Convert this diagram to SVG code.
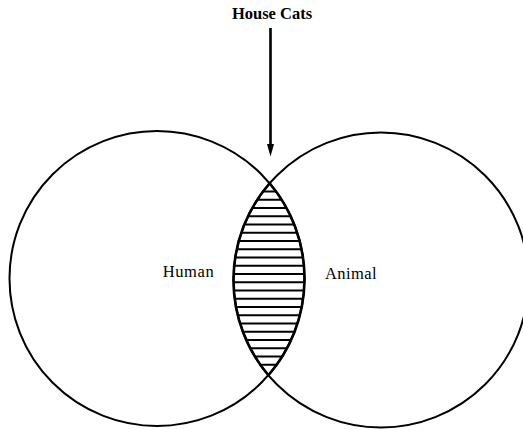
<svg xmlns="http://www.w3.org/2000/svg" width="523" height="430" viewBox="0 0 523 430">
  <style>
    .circle { fill: none; stroke: #000; stroke-width: 2; }
    .lens { fill: none; stroke: #000; stroke-width: 2.6; }
    .hatch { stroke: #000; stroke-width: 1.8; }
    .label { font-family: "Liberation Serif", "Times New Roman", serif; font-size: 16.5px; fill: #000; }
    .title { font-family: "Liberation Serif", "Times New Roman", serif; font-size: 16.5px; font-weight: bold; fill: #000; }
    .arrow { stroke: #000; stroke-width: 2.6; fill: none; }
  </style>
  <defs>
    <clipPath id="lensClip">
      <path d="M 269.64 183.27 A 147.5 147.5 0 0 1 268.36 375.23 A 147.5 147.5 0 0 1 269.64 183.27 Z"/>
    </clipPath>
    <marker id="head" markerUnits="userSpaceOnUse" markerWidth="13" markerHeight="8" refX="1" refY="4" orient="auto" viewBox="0 0 13 8">
      <polygon points="0,0.5 12.5,4 0,7.5" fill="#000"/>
    </marker>
  </defs>
  <rect width="523" height="430" fill="#fff"/>
  <g id="human">
    <circle class="circle" cx="157" cy="278.5" r="147.5"/>
    <text class="label" x="162.7" y="277" textLength="51" lengthAdjust="spacing">Human</text>
  </g>
  <g id="animal">
    <circle class="circle" cx="381" cy="280" r="147.5"/>
    <text class="label" x="325" y="278.5" textLength="51.5" lengthAdjust="spacing">Animal</text>
  </g>
  <g id="house-cats">
    <g clip-path="url(#lensClip)">
      <line class="hatch" x1="225" y1="191.5" x2="315" y2="191.5"/>
      <line class="hatch" x1="225" y1="199.75" x2="315" y2="199.75"/>
      <line class="hatch" x1="225" y1="208" x2="315" y2="208"/>
      <line class="hatch" x1="225" y1="216.25" x2="315" y2="216.25"/>
      <line class="hatch" x1="225" y1="224.5" x2="315" y2="224.5"/>
      <line class="hatch" x1="225" y1="232.75" x2="315" y2="232.75"/>
      <line class="hatch" x1="225" y1="241" x2="315" y2="241"/>
      <line class="hatch" x1="225" y1="249.25" x2="315" y2="249.25"/>
      <line class="hatch" x1="225" y1="257.5" x2="315" y2="257.5"/>
      <line class="hatch" x1="225" y1="265.75" x2="315" y2="265.75"/>
      <line class="hatch" x1="225" y1="274" x2="315" y2="274"/>
      <line class="hatch" x1="225" y1="282.25" x2="315" y2="282.25"/>
      <line class="hatch" x1="225" y1="290.5" x2="315" y2="290.5"/>
      <line class="hatch" x1="225" y1="298.75" x2="315" y2="298.75"/>
      <line class="hatch" x1="225" y1="307" x2="315" y2="307"/>
      <line class="hatch" x1="225" y1="315.25" x2="315" y2="315.25"/>
      <line class="hatch" x1="225" y1="323.5" x2="315" y2="323.5"/>
      <line class="hatch" x1="225" y1="331.75" x2="315" y2="331.75"/>
      <line class="hatch" x1="225" y1="340" x2="315" y2="340"/>
      <line class="hatch" x1="225" y1="348.25" x2="315" y2="348.25"/>
      <line class="hatch" x1="225" y1="356.5" x2="315" y2="356.5"/>
      <line class="hatch" x1="225" y1="364.75" x2="315" y2="364.75"/>
    </g>
    <path class="lens" d="M 269.64 183.27 A 147.5 147.5 0 0 1 268.36 375.23 A 147.5 147.5 0 0 1 269.64 183.27 Z"/>
    <text class="title" x="272" y="19.3" text-anchor="middle">House Cats</text>
  </g>
  <g id="connectors">
    <line class="arrow" x1="270.5" y1="28" x2="270.5" y2="145" marker-end="url(#head)"/>
  </g>
</svg>
